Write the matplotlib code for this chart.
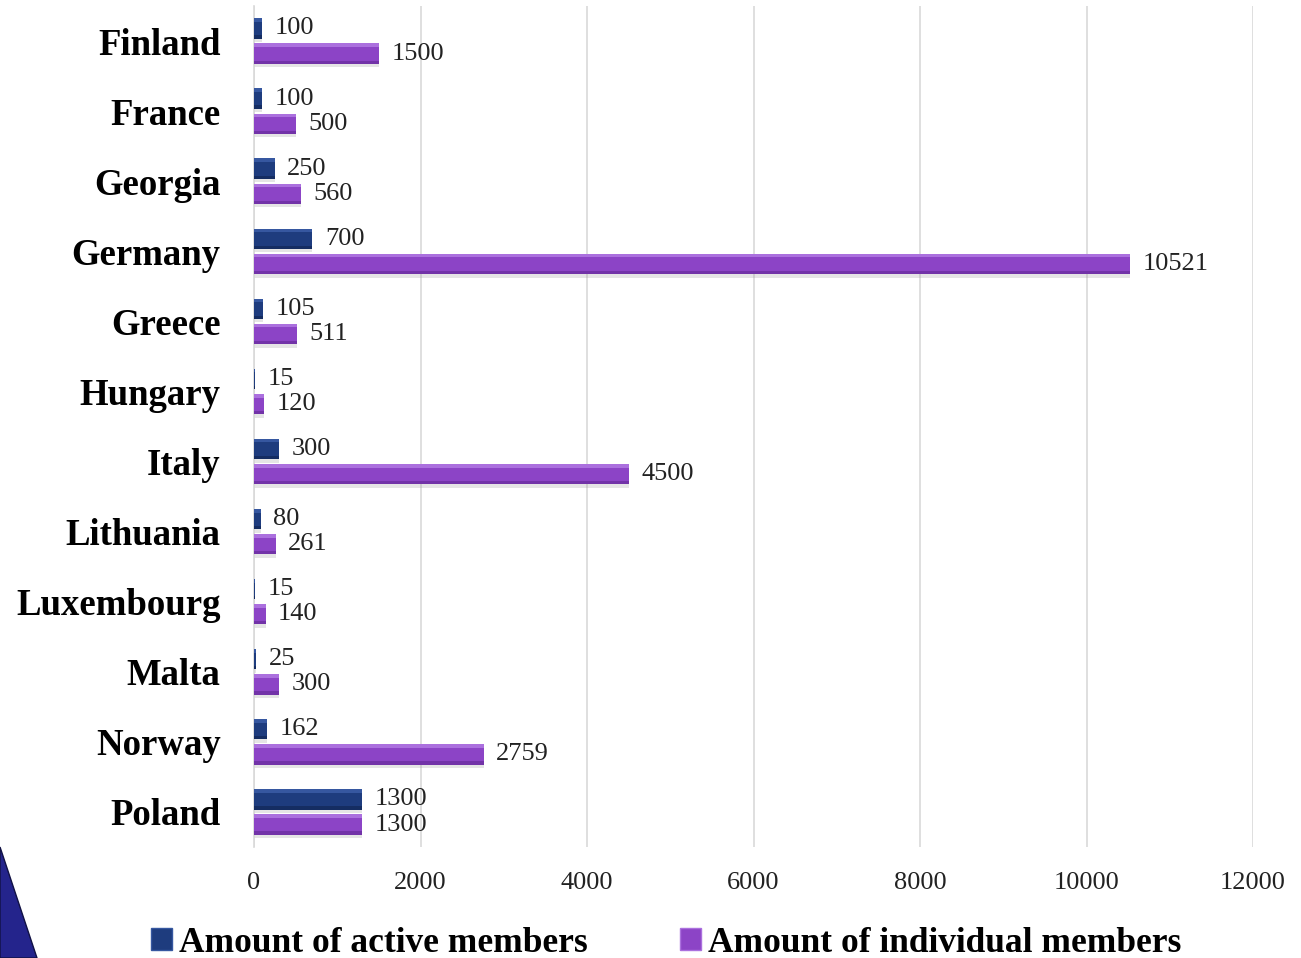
import numpy as np
import matplotlib
matplotlib.use("Agg")
import matplotlib.pyplot as plt
from matplotlib.patches import Patch, Polygon

plt.rcParams['font.family'] = ['Liberation Serif', 'DejaVu Serif']

# Data
countries = ['Finland', 'France', 'Georgia', 'Germany', 'Greece', 'Hungary',
             'Italy', 'Lithuania', 'Luxembourg', 'Malta', 'Norway', 'Poland']
active_members = [100, 100, 250, 700, 105, 15, 300, 80, 15, 25, 162, 1300]
individual_members = [1500, 500, 560, 10521, 511, 120, 4500, 261, 140, 300, 2759, 1300]
x_ticks = [0, 2000, 4000, 6000, 8000, 10000, 12000]

# colours: (main, highlight, shade)
blue = ('#1e3c7e', '#3657a0', '#152d62')
purple = ('#8c44c6', '#ab70de', '#7233a8')

W, H = 1301, 958
fig = plt.figure(figsize=(W / 100, H / 100), dpi=100)
ax = fig.add_axes([254 / W, 1 - 847 / H, (1253 - 254) / W, (847 - 6) / H])

y = np.arange(len(countries))
h = 0.29
off = 0.18


def bevel_bars(ypos, vals, cols):
    # soft shadow, main body, lighter top band, darker bottom band
    ax.barh(ypos + 0.05, vals, height=h, left=0, color='#999999', alpha=0.25,
            linewidth=0, zorder=2)
    ax.barh(ypos, vals, height=h, color=cols[0], linewidth=0, zorder=3)
    ax.barh(ypos - h * 0.41, vals, height=h * 0.18, color=cols[1], linewidth=0, zorder=4)
    ax.barh(ypos + h * 0.42, vals, height=h * 0.16, color=cols[2], linewidth=0, zorder=4)


bevel_bars(y - off, active_members, blue)
bevel_bars(y + off, individual_members, purple)

for yi, a, b in zip(y, active_members, individual_members):
    ax.annotate(str(a), (a, yi - off), xytext=(9, 0), textcoords='offset points',
                va='center', ha='left', fontsize=19, color='#222222')
    ax.annotate(str(b), (b, yi + off), xytext=(9, 0), textcoords='offset points',
                va='center', ha='left', fontsize=19, color='#222222')

ax.set_xlim(0, 12000)
ax.set_ylim(len(countries) - 0.5, -0.5)
ax.set_xticks(x_ticks)
ax.set_xticklabels([str(t) for t in x_ticks], fontsize=19, color='#222222')
ax.set_yticks(y)
ax.set_yticklabels(countries, fontsize=26.5, fontweight='bold')
ax.tick_params(axis='both', length=0)
ax.tick_params(axis='x', pad=18)
ax.tick_params(axis='y', pad=24)
ax.grid(axis='x', color='#d9d9d9', linewidth=1.2, zorder=0)
ax.set_axisbelow(True)
for side in ['top', 'right', 'bottom']:
    ax.spines[side].set_visible(False)
ax.spines['left'].set_color('#d9d9d9')
ax.spines['left'].set_linewidth(1.2)

handles = [Patch(facecolor=blue[0], edgecolor=blue[1]),
           Patch(facecolor=purple[0], edgecolor=purple[1])]
fig.legend(handles, ['Amount of active members', 'Amount of individual members'],
           loc='center', bbox_to_anchor=(666 / W, 1 - 943 / H), ncol=2, frameon=False,
           prop={'size': 25.5, 'weight': 'bold'}, handlelength=0.6, handleheight=0.6,
           handletextpad=0.2, columnspacing=2.6)

# decorative corner triangle
fig.add_artist(Polygon([(0, 1 - 847 / H), (37 / W, 0), (0, 0)], closed=True,
                       transform=fig.transFigure, facecolor='#24248c',
                       edgecolor='#111144', linewidth=1.0))

fig.savefig('out.png', dpi=100)
